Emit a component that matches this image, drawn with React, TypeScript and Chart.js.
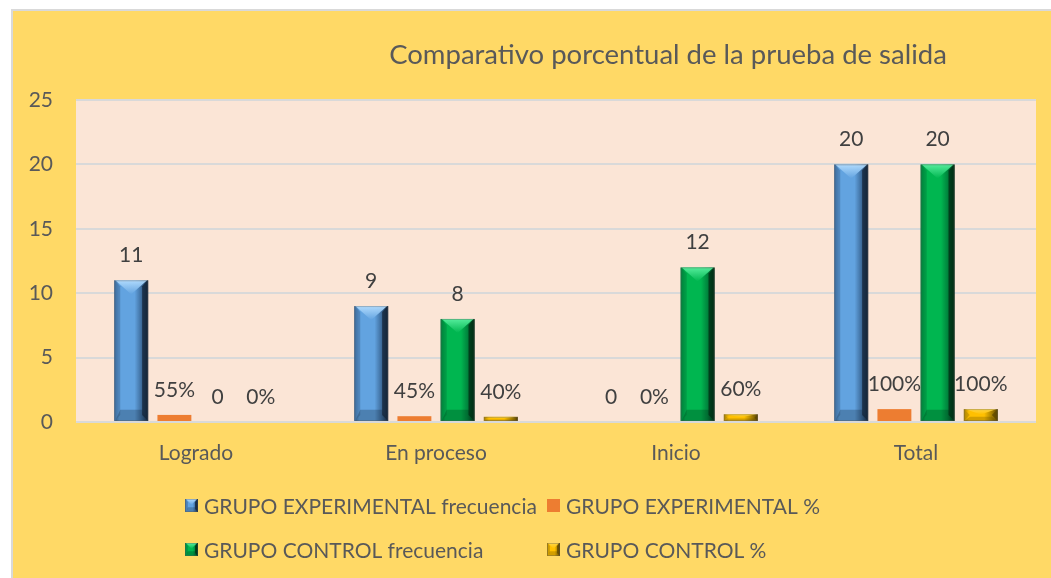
import React, { useEffect, useRef } from 'react';
import { Chart, registerables } from 'chart.js';

Chart.register(...registerables);

const categories = ['Logrado', 'En proceso', 'Inicio', 'Total'];
const expFreq = [11, 9, 0, 20];
const expPct = [0.55, 0.45, 0, 1];
const ctrlFreq = [0, 8, 12, 20];
const ctrlPct = [0, 0.4, 0.6, 1];
const seriesNames = [
  'GRUPO EXPERIMENTAL frecuencia',
  'GRUPO EXPERIMENTAL %',
  'GRUPO CONTROL frecuencia',
  'GRUPO CONTROL %',
];
const seriesIsPercent = [false, true, false, true];
const yMin = 0;
const yMax = 25;
const yStep = 5;
const titleText = 'Comparativo porcentual de la prueba de salida';

const FONT = 'Lato, "Noto Sans", sans-serif';

type Sty = { base: string; light: string; edge: string; dark: string; bevel: boolean };
const styles: Sty[] = [
  { base: '#62A3E0', light: '#B5DEFF', edge: '#3D6C9C', dark: '#14263A', bevel: true },
  { base: '#ED7D31', light: '#ED7D31', edge: '#ED7D31', dark: '#ED7D31', bevel: false },
  { base: '#00B650', light: '#5AF0A0', edge: '#00823C', dark: '#002E14', bevel: true },
  { base: '#FFC000', light: '#FFD84A', edge: '#B08600', dark: '#5E4700', bevel: true },
];

function poly(ctx: CanvasRenderingContext2D, pts: number[][], fill: any) {
  ctx.beginPath();
  ctx.moveTo(pts[0][0], pts[0][1]);
  for (let i = 1; i < pts.length; i++) ctx.lineTo(pts[i][0], pts[i][1]);
  ctx.closePath();
  ctx.fillStyle = fill;
  ctx.fill();
}

function drawBevelRect(ctx: CanvasRenderingContext2D, L: number, R: number, T: number, B: number, c: Sty, big = true) {
  const w = R - L;
  const h = B - T;
  if (h <= 0.5 || w <= 0) return;
  ctx.save();
  if (!c.bevel) {
    ctx.fillStyle = c.base;
    ctx.fillRect(L, T, w, h);
    ctx.restore();
    return;
  }
  const d = Math.min(big ? 6 : 3, w / 2, h / 2);
  const cx = (L + R) / 2;
  const g = ctx.createLinearGradient(L, 0, R, 0);
  g.addColorStop(0, c.edge);
  g.addColorStop(0.15, c.base);
  g.addColorStop(0.6, c.base);
  g.addColorStop(0.8, c.edge);
  g.addColorStop(1, c.dark);
  ctx.fillStyle = g;
  ctx.fillRect(L, T, w, h);
  // right face
  ctx.globalAlpha = 0.75;
  poly(ctx, [[R, T], [R, B], [R - d, B - d], [R - d, T + d]], c.dark);
  // left face
  ctx.globalAlpha = 0.5;
  poly(ctx, [[L, T], [L + d, T + d], [L + d, B - d], [L, B]], c.edge);
  // top face
  const td = Math.min(big ? 14 : 6, h * 0.45);
  const tg = ctx.createLinearGradient(0, T, 0, T + td);
  tg.addColorStop(0, c.light);
  tg.addColorStop(1, c.base);
  ctx.globalAlpha = 0.95;
  poly(ctx, [[L + 1, T], [R - 1, T], [cx, T + td]], tg);
  // bottom face
  ctx.globalAlpha = 0.28;
  poly(ctx, [[L + 1, B], [R - 1, B], [R - d, B - td * 0.8], [L + d, B - td * 0.8]], c.dark);
  ctx.globalAlpha = 1;
  ctx.strokeStyle = 'rgba(90,90,90,0.35)';
  ctx.lineWidth = 1;
  ctx.strokeRect(L + 0.5, T + 0.5, w - 1, h - 1);
  ctx.restore();
}

const bgPlugin = {
  id: 'plotBg',
  beforeDraw(chart: any) {
    const { ctx, chartArea } = chart;
    ctx.save();
    ctx.fillStyle = '#FBE5D6';
    ctx.fillRect(chartArea.left, chartArea.top, chartArea.right - chartArea.left, chartArea.bottom - chartArea.top);
    ctx.restore();
  },
};

const bevelPlugin = {
  id: 'bevelBars',
  afterDatasetsDraw(chart: any) {
    const ctx = chart.ctx as CanvasRenderingContext2D;
    chart.data.datasets.forEach((ds: any, i: number) => {
      const meta = chart.getDatasetMeta(i);
      meta.data.forEach((el: any, j: number) => {
        const p = el.getProps(['x', 'y', 'base', 'width'], true);
        const L = p.x - p.width / 2;
        const R = p.x + p.width / 2;
        drawBevelRect(ctx, L, R, Math.min(p.y, p.base), Math.max(p.y, p.base), styles[i]);
        const v = ds.data[j];
        const txt = seriesIsPercent[i] ? `${Math.round(v * 100)}%` : String(v);
        ctx.save();
        ctx.font = `21px ${FONT}`;
        ctx.fillStyle = '#404040';
        ctx.textAlign = 'center';
        ctx.textBaseline = 'middle';
        ctx.fillText(txt, p.x, Math.min(p.y, p.base) - 25);
        ctx.restore();
      });
    });
  },
};

const decorPlugin = {
  id: 'decor',
  afterDraw(chart: any) {
    const ctx = chart.ctx as CanvasRenderingContext2D;
    ctx.save();
    ctx.font = `27.5px ${FONT}`;
    ctx.fillStyle = '#595959';
    ctx.textAlign = 'center';
    ctx.textBaseline = 'middle';
    ctx.fillText(titleText, 655, 44);
    // legend
    const cols = [172, 534];
    const rows = [495, 539];
    ctx.font = `21px ${FONT}`;
    ctx.textAlign = 'left';
    seriesNames.forEach((name, i) => {
      const x = cols[i % 2];
      const y = rows[Math.floor(i / 2)];
      drawBevelRect(ctx, x, x + 13, y - 7, y + 6, styles[i], false);
      ctx.fillStyle = '#595959';
      ctx.textBaseline = 'middle';
      ctx.fillText(name, x + 19, y + 1);
    });
    ctx.restore();
  },
};

export default function App() {
  const ref = useRef<HTMLCanvasElement | null>(null);
  useEffect(() => {
    if (!ref.current) return;
    const transparent = 'rgba(0,0,0,0)';
    const chart = new Chart(ref.current, {
      type: 'bar',
      data: {
        labels: categories,
        datasets: [expFreq, expPct, ctrlFreq, ctrlPct].map((d, i) => ({
          label: seriesNames[i],
          data: d,
          backgroundColor: transparent,
          borderWidth: 0,
          categoryPercentage: 0.72,
          barPercentage: 0.785,
        })),
      },
      options: {
        responsive: false,
        animation: false,
        layout: { padding: { top: 89, right: 15, left: 0, bottom: 0 } },
        plugins: {
          legend: { display: false },
          title: { display: false },
          tooltip: { enabled: false },
        },
        scales: {
          x: {
            grid: { display: false, drawTicks: false },
            border: { display: false },
            ticks: { color: '#595959', font: { family: FONT, size: 21 }, padding: 19 },
            afterFit: (s: any) => {
              s.height = 156;
            },
          },
          y: {
            min: yMin,
            max: yMax,
            ticks: { stepSize: yStep, color: '#595959', font: { family: FONT, size: 21 }, padding: 23 },
            grid: { color: '#D9D9D9', lineWidth: 2, drawTicks: false },
            border: { display: false },
            afterFit: (s: any) => {
              s.width = 63;
            },
          },
        },
      },
      plugins: [bgPlugin, bevelPlugin, decorPlugin],
    });
    return () => chart.destroy();
  }, []);

  return (
    <div style={{ position: 'fixed', left: 0, top: 0, width: 1051, height: 578, background: '#FFFFFF', overflow: 'hidden' }}>
      <div
        style={{
          position: 'absolute',
          left: 11,
          top: 9,
          width: 1060,
          height: 590,
          background: '#FFD966',
          borderLeft: '2px solid #D9D9D9',
          borderTop: '2px solid #D9D9D9',
        }}
      >
        <canvas ref={ref} width={1038} height={567} style={{ display: 'block', width: 1038, height: 567 }} />
      </div>
    </div>
  );
}
